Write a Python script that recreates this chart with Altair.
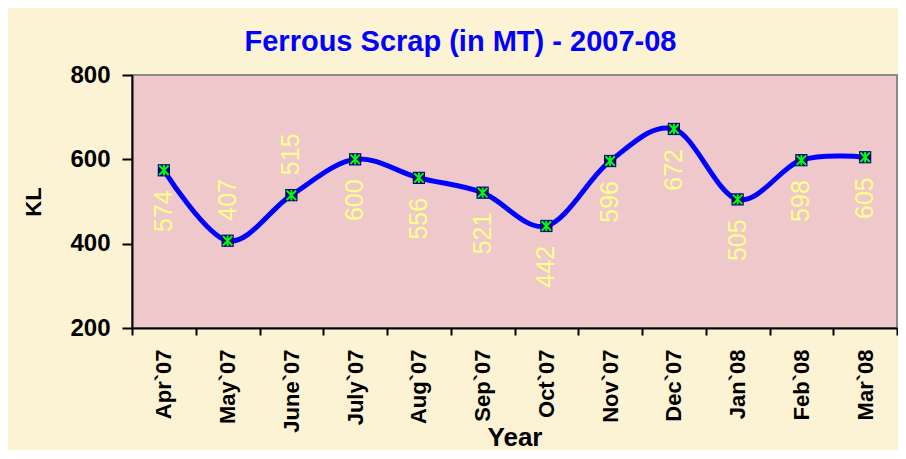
import altair as alt
import pandas as pd

months = ["Apr`07", "May`07", "June`07", "July`07", "Aug`07", "Sep`07",
          "Oct`07", "Nov`07", "Dec`07", "Jan`08", "Feb`08", "Mar`08"]
values = [574, 407, 515, 600, 556, 521, 442, 596, 672, 505, 598, 605]
label_side = ["below", "above", "above", "below", "below", "below",
              "below", "below", "below", "below", "below", "below"]

df = pd.DataFrame({"Year": months, "KL": values, "side": label_side})

FONT = "Liberation Sans"

x_enc = alt.X("Year:N", sort=months,
              scale=alt.Scale(type="band", paddingInner=0, paddingOuter=0),
              axis=alt.Axis(title="Year", labelAngle=-90, labelFontSize=22,
                            labelFontWeight="bold", labelFont=FONT, labelColor="black",
                            tickBand="extent", tickSize=7, tickColor="black", tickWidth=2,
                            domainColor="black", domainWidth=2, labelPadding=14,
                            titleFont=FONT, titleFontSize=26, titleFontWeight="bold",
                            titleColor="black", titleBaseline="alphabetic", titleY=117))
y_enc = alt.Y("KL:Q", scale=alt.Scale(domain=[200, 800]),
              axis=alt.Axis(title="KL", values=[200, 400, 600, 800], grid=False,
                            labelFontSize=24, labelFontWeight="bold", labelFont=FONT,
                            labelColor="black", tickSize=10, tickColor="black", tickWidth=2,
                            domainColor="black", domainWidth=2, labelPadding=12,
                            titleFont=FONT, titleFontSize=22, titleFontWeight="bold",
                            titleColor="black", titlePadding=24))

base = alt.Chart(df).encode(x=x_enc, y=y_enc)

line = base.mark_line(color="#0000FF", strokeWidth=5, interpolate="cardinal")
squares = base.mark_square(size=150, color="#000080", opacity=1)
stars = base.mark_point(shape="M-1,-1L1,1M-1,1L1,-1M0,-1.1L0,1.1", size=90,
                        color="#00FF00", strokeWidth=2, filled=False, opacity=1)

lbl_below = base.transform_filter(alt.datum.side == "below").mark_text(
    angle=270, align="right", baseline="middle", dx=-20, fontSize=25,
    font=FONT, color="#FFFF8C").encode(text="KL:Q")
lbl_above = base.transform_filter(alt.datum.side == "above").mark_text(
    angle=270, align="left", baseline="middle", dx=20, fontSize=25,
    font=FONT, color="#FFFF8C").encode(text="KL:Q")

chart = alt.layer(line, squares, stars, lbl_below, lbl_above).properties(
    width=765, height=253,
    title=alt.TitleParams("Ferrous Scrap (in MT) - 2007-08", font=FONT, fontSize=29,
                          fontWeight="bold", color="#0000FF", anchor="middle",
                          frame="bounds", offset=6),
    autosize=alt.AutoSizeParams(type="none"),
    padding={"left": 124, "top": 67, "right": 1, "bottom": 122},
    background="#FBF3D4",
).configure_view(fill="#EEC8CA", stroke="#888888", strokeWidth=2)

chart.save("out.html", embed_options={"renderer": "svg", "actions": False})
